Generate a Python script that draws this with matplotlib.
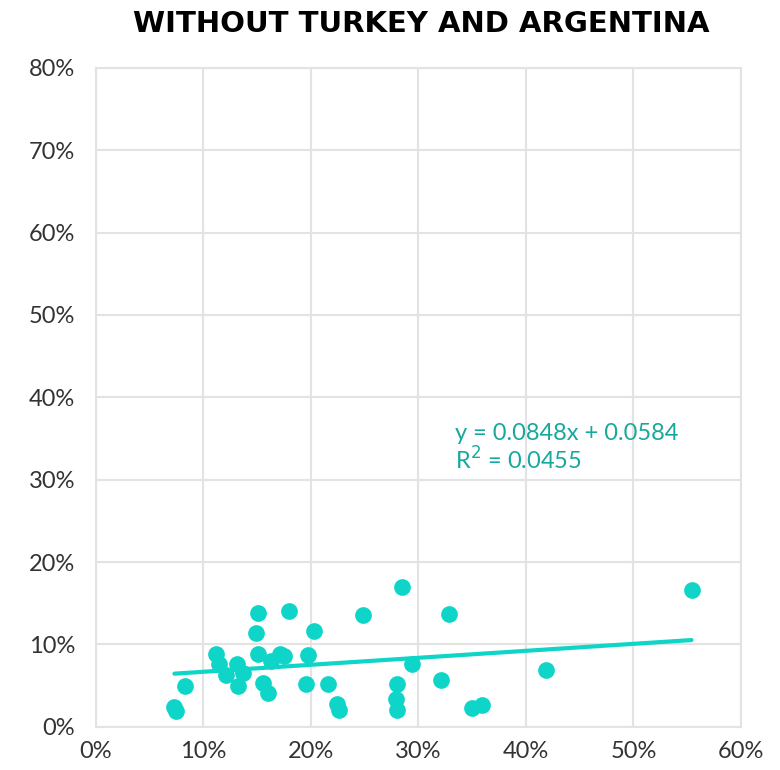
import matplotlib
matplotlib.use('Agg')
import matplotlib.pyplot as plt
import numpy as np
from matplotlib.ticker import FuncFormatter

# values, in percent
x = [7.3, 7.45, 8.3, 11.2, 11.4, 12.1, 13.1, 13.7, 13.2, 15.1, 14.9, 15.1,
     15.5, 16.0, 16.3, 17.1, 17.5, 18.0, 19.5, 19.75, 20.3, 21.6, 22.45, 22.6,
     24.8, 28.5, 28.0, 27.9, 28.0, 29.4, 32.1, 32.8, 34.95, 35.9, 41.9, 55.4]
y = [2.4, 1.9, 5.0, 8.9, 7.6, 6.3, 7.6, 6.5, 5.0, 13.8, 11.4, 8.9,
     5.3, 4.1, 8.0, 8.8, 8.6, 14.1, 5.2, 8.7, 11.65, 5.2, 2.8, 2.1,
     13.6, 16.95, 5.2, 3.35, 2.1, 7.6, 5.7, 13.65, 2.35, 2.7, 6.9, 16.6]

slope = 0.0848
intercept = 0.0584
r2 = 0.0455

teal = '#0fd5c8'
plt.rcParams['font.family'] = ['Lato', 'DejaVu Sans']

fig = plt.figure(figsize=(7.8, 7.7), dpi=100)
ax = fig.add_axes([0.123, 0.056, 0.827, 0.856])

ax.scatter(x, y, s=145, color=teal, zorder=3, linewidths=0)
xs = np.array([min(x), max(x)])
ax.plot(xs, (slope * xs / 100 + intercept) * 100, color=teal, lw=3, zorder=2,
        solid_capstyle='round')

ax.text(33.4, 33.8, 'y = %.4fx + %.4f\nR$^2$ = %.4f' % (slope, intercept, r2),
        color='#17a89d', fontsize=17, va='center', ha='left', linespacing=1.1)

ax.set_xlim(0, 60)
ax.set_ylim(0, 80)
ax.set_xticks(range(0, 61, 10))
ax.set_yticks(range(0, 81, 10))
pct = FuncFormatter(lambda v, p: '%d%%' % v)
ax.xaxis.set_major_formatter(pct)
ax.yaxis.set_major_formatter(pct)
ax.tick_params(length=0, labelsize=17, colors='#333333')
ax.tick_params(axis='y', pad=15)
ax.tick_params(axis='x', pad=10)
ax.grid(True, color='#e3e3e3', lw=1.5)
ax.set_axisbelow(True)
for s in ax.spines.values():
    s.set_color('#e3e3e3')
    s.set_linewidth(1.5)

fig.text(0.54, 0.969, 'WITHOUT TURKEY AND ARGENTINA', ha='center', va='center',
         fontsize=21, fontweight='bold', family=['DejaVu Sans'])

fig.savefig('out.png', dpi=100)
